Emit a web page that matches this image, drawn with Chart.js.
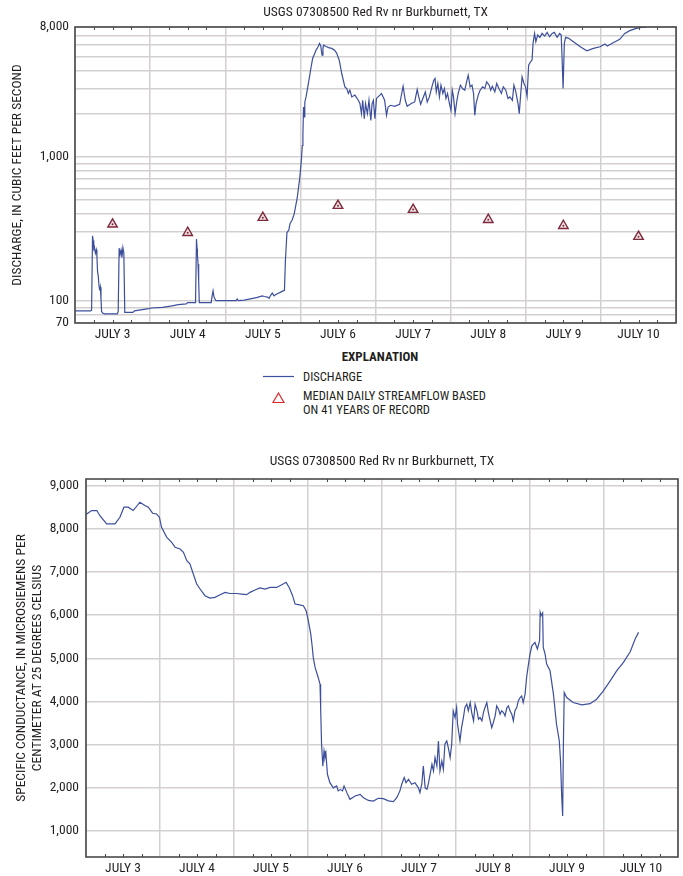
<!DOCTYPE html>
<html>
<head>
<meta charset="utf-8">
<script src="https://cdn.jsdelivr.net/npm/chart.js@4.4.1/dist/chart.umd.min.js"></script>
<style>
  html, body { margin: 0; padding: 0; background: #fff; }
  body { width: 683px; height: 876px; position: relative; overflow: hidden;
         font-family: 'Roboto Condensed', 'Liberation Sans Narrow', sans-serif; color: #231f20; }
  .box { position: absolute; left: 0; width: 683px; }
  #topBox { top: 0; height: 345px; }
  #bottomBox { top: 440px; height: 436px; }
  .txt { position: absolute; white-space: nowrap; font-size: 12.5px; }
  svg { position: absolute; }
</style>
</head>
<body>
<div class="box" id="topBox"><canvas id="dischargeChart"></canvas></div>
<div class="box" id="bottomBox"><canvas id="conductanceChart"></canvas></div>

<!-- explanation block under the discharge chart -->
<div class="txt" style="left:320px; top:349px; width:120px; text-align:center; font-weight:bold; font-size:13px; line-height:16px;">EXPLANATION</div>
<svg style="left:263px; top:370px;" width="31" height="12"><line x1="0" y1="6.5" x2="31" y2="6.5" stroke="#3d4f9b" stroke-width="1.2"/></svg>
<div class="txt" style="left:303px; top:369px; line-height:16px;">DISCHARGE</div>
<svg style="left:272px; top:392px;" width="13" height="12"><polygon points="6.5,1 12,10.5 1,10.5" fill="none" stroke="#e0262b" stroke-width="1.2"/></svg>
<div class="txt" style="left:303px; top:389px; line-height:14px;">MEDIAN DAILY STREAMFLOW BASED<br>ON 41 YEARS OF RECORD</div>

<script>
// ---- data (hours since July 3, 00:00) ----
var dayLabels = ['JULY 3', 'JULY 4', 'JULY 5', 'JULY 6', 'JULY 7', 'JULY 8', 'JULY 9', 'JULY 10'];

var dischargeHours = [0, 5.0, 5.3, 5.6, 5.8, 6.0, 6.2, 6.5, 6.8, 7.0, 7.2, 7.4, 7.7, 7.9, 8.1, 8.3, 8.5, 8.8, 9.5, 13.5,
  13.8, 14.1, 14.4, 14.7, 15.0, 15.3, 15.6, 15.9, 18.5, 19.0, 23.5, 24.5, 28.0, 31.0, 33.0, 35.5, 36.0, 38.5, 38.8, 39.0,
  39.1, 39.3, 39.5, 39.7, 43.5, 43.8, 44.1, 44.4, 45.0, 51.5, 51.8, 52.2, 54.0, 56.0, 58.0, 59.8, 60.5, 61.5, 62.0, 62.5,
  63.0, 63.6, 64.0, 66.5, 66.9, 67.2, 67.7, 68.3, 68.7, 69.3, 70.0, 70.6, 71.0, 71.4, 71.7, 72.0, 72.3, 72.6, 72.8, 73.0,
  73.2, 73.4, 73.8, 74.4, 74.9, 75.4, 75.9, 76.5, 77.0, 77.6, 78.1, 78.5, 78.9, 79.2, 79.4, 80.2, 81.0, 82.0, 83.0, 83.6,
  84.4, 85.2, 86.2, 86.8, 87.3, 87.8, 88.4, 89.4, 90.5, 91.0, 91.5, 91.9, 92.4, 92.8, 93.4, 93.9, 94.5, 94.9, 95.3, 95.8,
  96.3, 96.8, 97.4, 97.9, 98.9, 99.5, 100.0, 100.8, 102.1, 103.7, 104.8, 105.5, 106.1, 107.4, 108.5, 109.3, 109.8, 110.4, 111.1, 111.9,
  112.5, 113.2, 114.0, 114.6, 115.0, 115.4, 115.9, 116.4, 116.9, 117.5, 118.0, 118.5, 119.0, 119.6, 120.1, 120.5, 120.9, 121.4, 122.0, 122.4,
  123.1, 123.8, 124.5, 125.2, 125.6, 126.2, 126.8, 127.3, 127.7, 128.1, 128.8, 129.4, 130.2, 130.9, 131.5, 132.3, 132.8, 133.3, 134.1, 134.7,
  135.4, 136.2, 136.8, 137.6, 138.3, 138.9, 139.7, 140.2, 140.8, 141.5, 141.9, 142.3, 142.8, 143.4, 143.9, 144.4, 144.9, 145.5, 146.0, 146.3,
  146.8, 147.2, 147.8, 148.5, 149.2, 150.0, 150.8, 151.6, 152.4, 153.1, 154.0, 154.8, 155.3, 155.6, 155.9, 156.3, 156.7, 157.7, 159.2, 161.4,
  163.5, 165.6, 167.7, 169.3, 170.0, 171.9, 174.0, 175.6, 177.2, 179.3, 180.9, 182.5];
var dischargeCfs = [85, 85, 86, 283, 262, 230, 236, 214, 226, 205, 160, 150, 125, 118, 124, 103, 84, 82, 81, 81,
  84, 232, 210, 225, 200, 234, 215, 83, 83, 85, 88, 89, 90, 92, 94, 95, 97, 97, 268, 230,
  211, 180, 137, 97, 97, 108, 117, 106, 100, 100, 103, 100, 101, 103, 105, 108, 107, 106, 104, 109,
  113, 108, 110, 117, 118, 189, 298, 310, 345, 361, 400, 470, 520, 615, 686, 800, 944, 1200, 1449, 2223,
  1900, 2400, 2612, 3100, 3600, 4200, 4830, 5200, 5530, 5800, 6150, 5900, 5100, 5700, 5980, 5850, 5750, 5680, 5500, 5250,
  4700, 3800, 3070, 2985, 2760, 2910, 2612, 2690, 2475, 2350, 2000, 2475, 1845, 2350, 2000, 2475, 1795, 2350, 2475, 1845,
  2550, 2612, 2690, 2760, 2475, 1945, 2223, 2285, 2249, 2322, 3100, 2475, 2249, 2350, 2411, 2939, 2612, 2322, 2550, 2830,
  2411, 2612, 3070, 3415, 3510, 2830, 3240, 2612, 3150, 2760, 2985, 2550, 2760, 2350, 2110, 2910, 2612, 2000, 2475, 2760,
  3150, 2985, 2910, 3415, 3700, 3070, 3150, 2760, 1945, 2350, 2690, 2910, 3070, 2985, 3325, 3150, 2910, 3100, 2830, 3240,
  2985, 2760, 3070, 2910, 2550, 2612, 2475, 3150, 2830, 2350, 2000, 2612, 3602, 3240, 3070, 2641, 4344, 4584, 4708, 6153,
  7225, 6319, 7035, 6775, 7225, 6922, 7344, 6848, 7225, 7344, 6775, 7225, 7035, 4708, 2985, 6153, 6775, 6668, 6319, 5832,
  5469, 5678, 5832, 6087, 5895, 6218, 6561, 7225, 7543, 7830, 7960, 8000];

var medianHours = [12, 36, 60, 84, 108, 132, 156, 180];
var medianCfs = [340, 297, 378, 458, 430, 366, 332, 279];

var dischargeGridValues = [70, 80, 90, 100, 200, 300, 400, 500, 600, 700, 800, 900,
  1000, 2000, 3000, 4000, 5000, 6000, 7000, 8000];
var dischargeLabelValues = [70, 100, 1000, 8000];

var conductanceHours = [0, 1.8, 3.5, 4.5, 6.7, 9.4, 11.0, 12.3, 13.7, 15.3, 17.5, 19.1, 20.2, 21.6, 22.9, 23.8, 24.5, 26.2, 27.8, 28.9,
  30.5, 31.6, 32.7, 33.7, 34.8, 35.9, 37.0, 38.6, 40.2, 41.8, 43.5, 45.1, 46.7, 48.9, 50.5, 52.1, 53.2, 54.8, 56.4, 58.1,
  59.7, 61.8, 63.5, 64.9, 65.9, 67.0, 67.8, 68.9, 70.5, 71.4, 72.1, 72.9, 73.4, 73.7, 74.3, 75.3, 75.9, 76.1, 76.4, 76.8,
  77.2, 77.5, 77.8, 78.3, 79.1, 80.2, 81.3, 81.8, 82.5, 83.2, 83.7, 84.2, 84.6, 85.6, 87.3, 88.9, 90.0, 91.6, 93.2, 94.8,
  96.4, 98.1, 99.7, 100.8, 101.8, 102.4, 103.2, 103.8, 104.6, 105.6, 106.7, 107.8, 108.3, 108.9, 109.4, 110.0, 110.6, 111.1, 111.6, 112.2,
  112.7, 113.2, 113.8, 114.3, 114.8, 115.4, 115.9, 116.4, 117.0, 117.5, 118.1, 118.6, 119.1, 119.7, 120.2, 120.5, 121.3, 121.8, 122.4, 122.9,
  123.5, 124.0, 124.6, 125.1, 125.7, 126.2, 126.8, 127.3, 127.8, 128.4, 128.9, 129.4, 130.0, 130.5, 131.1, 131.6, 132.1, 132.7, 133.2, 133.8,
  134.3, 134.8, 135.4, 135.9, 136.5, 137.0, 137.5, 138.1, 138.6, 139.1, 139.7, 140.2, 140.8, 141.3, 141.8, 142.4, 142.9, 143.5, 144.0, 144.6,
  145.6, 146.4, 147.1, 147.3, 147.6, 148.1, 148.3, 148.9, 149.4, 150.5, 151.6, 152.6, 153.5, 153.9, 154.3, 154.6, 154.8, 155.1, 155.9, 158.0,
  160.8, 163.5, 165.6, 167.8, 170.0, 172.1, 174.3, 176.5, 178.1, 179.2];
var conductanceUs = [8328, 8420, 8420, 8300, 8110, 8110, 8265, 8497, 8497, 8420, 8613, 8536, 8497, 8358, 8340, 8265, 8033, 7800, 7685, 7570,
  7530, 7454, 7260, 7184, 6952, 6720, 6604, 6449, 6395, 6410, 6472, 6526, 6500, 6500, 6487, 6472, 6526, 6580, 6627, 6600,
  6640, 6640, 6704, 6758, 6640, 6449, 6256, 6240, 6217, 6100, 5870, 5560, 5250, 5020, 4788, 4556, 4400, 3860, 3010, 2500,
  2855, 2700, 2800, 2315, 2120, 2000, 2045, 1930, 1960, 1930, 2045, 1960, 1890, 1735, 1812, 1850, 1773, 1710, 1696, 1760,
  1750, 1700, 1680, 1773, 1930, 2084, 2240, 2120, 2200, 2084, 2120, 2000, 1890, 2084, 2507, 2000, 1970, 2120, 2315, 2546,
  2391, 2700, 2507, 3087, 2391, 2623, 2430, 3010, 3087, 2932, 2700, 3010, 3783, 3627, 3860, 3473, 3087, 3396, 3627, 3860,
  3937, 3783, 3976, 3744, 3551, 3937, 3783, 3590, 3627, 3551, 3744, 3860, 3976, 3744, 3551, 3396, 3512, 3667, 3899, 3821,
  3705, 3783, 3744, 3667, 3860, 3899, 3783, 3705, 3551, 3783, 3860, 4014, 4092, 4130, 3976, 4169, 4556, 4865, 5097, 5290,
  5367, 5213, 5406, 6062, 5990, 6050, 5250, 5097, 4865, 4710, 4170, 3473, 3087, 2623, 1773, 1348, 2855, 4208, 4092, 3976,
  3923, 3950, 4053, 4246, 4478, 4710, 4904, 5150, 5445, 5600];

var conductanceGridValues = [1000, 2000, 3000, 4000, 5000, 6000, 7000, 8000, 9000];

// ---- styling ----
var fontFamily = "'Roboto Condensed', 'Liberation Sans Narrow', sans-serif";
var textColor = '#231f20';
var gridColor = '#d4d0d0';
var frameColor = '#4a4a4a';
var lineColor = '#3d4f9b';
var stationTitle = 'USGS 07308500 Red Rv nr Burkburnett, TX';

Chart.defaults.font.family = fontFamily;
Chart.defaults.font.size = 13.5;
Chart.defaults.color = textColor;

var sixHourTicks = [];
for (var h = 0; h <= 192; h += 6) sixHourTicks.push(h);

function pairs(xs, ys) {
  return xs.map(function (x, i) { return { x: x, y: ys[i] }; });
}

// box around the plot and short inward ticks every 6 hours
var framePlugin = {
  id: 'frame',
  afterDraw: function (chart) {
    var a = chart.chartArea, ctx = chart.ctx, xs = chart.scales.x;
    ctx.save();
    ctx.strokeStyle = frameColor;
    ctx.lineWidth = 1;
    ctx.beginPath();
    xs.ticks.forEach(function (t) {
      if (t.value % 24 === 0) return;
      var px = Math.round(xs.getPixelForValue(t.value)) + 0.5;
      ctx.moveTo(px, a.bottom); ctx.lineTo(px, a.bottom - 3);
      ctx.moveTo(px, a.top); ctx.lineTo(px, a.top + 3);
    });
    ctx.stroke();
    ctx.lineWidth = 1.6;
    ctx.strokeRect(a.left, a.top, a.right - a.left, a.bottom - a.top);
    ctx.restore();
  }
};

function dayAxis(axisHeight) {
  return {
    type: 'linear', min: 0, max: 192,
    afterBuildTicks: function (s) { s.ticks = sixHourTicks.map(function (v) { return { value: v }; }); },
    afterFit: function (s) { s.height = axisHeight; },
    border: { display: false },
    grid: {
      drawTicks: false, lineWidth: 1.5,
      color: function (c) { return (c.tick && c.tick.value % 24 === 0) ? gridColor : 'rgba(0,0,0,0)'; }
    },
    ticks: {
      autoSkip: false, maxRotation: 0, padding: 4,
      callback: function (v) { return v % 24 === 12 ? dayLabels[(v - 12) / 24] : ''; }
    }
  };
}

new Chart(document.getElementById('dischargeChart'), {
  type: 'line',
  data: {
    datasets: [
      { data: pairs(medianHours, medianCfs), showLine: false, pointStyle: 'circle', pointRadius: 1,
        pointBackgroundColor: '#7f2a3c', pointBorderWidth: 0 },
      { data: pairs(medianHours, medianCfs), showLine: false, pointStyle: 'triangle', pointRadius: 5.5,
        pointBorderColor: '#7f2a3c', pointBackgroundColor: '#f1e3e6', pointBorderWidth: 1.4 },
      { data: pairs(dischargeHours, dischargeCfs), borderColor: lineColor, borderWidth: 1.2,
        pointRadius: 0, tension: 0 }
    ]
  },
  options: {
    responsive: true, maintainAspectRatio: false, animation: false, events: [],
    layout: { padding: { left: 0, right: 2, top: 0, bottom: 0 } },
    plugins: {
      legend: { display: false }, tooltip: { enabled: false },
      title: { display: true, text: stationTitle, fullSize: false, font: { size: 13.5, weight: 'normal', lineHeight: 1.2 },
               color: textColor, padding: { top: 4.9, bottom: 5.9 } }
    },
    scales: {
      x: dayAxis(22),
      y: {
        type: 'logarithmic', min: 70, max: 8000,
        afterBuildTicks: function (s) { s.ticks = dischargeGridValues.map(function (v) { return { value: v }; }); },
        afterFit: function (s) { s.width = 75; },
        border: { display: false },
        grid: { drawTicks: false, color: gridColor, lineWidth: 1.5 },
        ticks: {
          autoSkip: false, padding: 6,
          callback: function (v) { return dischargeLabelValues.indexOf(v) >= 0 ? v.toLocaleString('en-US') : ''; }
        },
        title: { display: true, text: 'DISCHARGE, IN CUBIC FEET PER SECOND', color: textColor,
                 font: { size: 13.5 }, padding: { top: 10, bottom: 0 } }
      }
    }
  },
  plugins: [framePlugin]
});

new Chart(document.getElementById('conductanceChart'), {
  type: 'line',
  data: {
    datasets: [
      { data: pairs(conductanceHours, conductanceUs), borderColor: lineColor, borderWidth: 1.2,
        pointRadius: 0, tension: 0 }
    ]
  },
  options: {
    responsive: true, maintainAspectRatio: false, animation: false, events: [],
    layout: { padding: { left: 0, right: 5, top: 0, bottom: 0 } },
    plugins: {
      legend: { display: false }, tooltip: { enabled: false },
      title: { display: true, text: stationTitle, fullSize: false, font: { size: 13.5, weight: 'normal', lineHeight: 1.2 },
               color: textColor, padding: { top: 13.9, bottom: 8.9 } }
    },
    scales: {
      x: dayAxis(19),
      y: {
        type: 'linear', min: 400, max: 9150,
        afterBuildTicks: function (s) { s.ticks = conductanceGridValues.map(function (v) { return { value: v }; }); },
        afterFit: function (s) { s.width = 86; },
        border: { display: false },
        grid: { drawTicks: false, color: gridColor, lineWidth: 1.5 },
        ticks: {
          autoSkip: false, padding: 7,
          callback: function (v) { return v.toLocaleString('en-US'); }
        },
        title: { display: true, text: ['SPECIFIC CONDUCTANCE, IN MICROSIEMENS PER', 'CENTIMETER AT 25 DEGREES CELSIUS'],
                 color: textColor, font: { size: 13.5, lineHeight: 1.15 }, padding: { top: 14.2, bottom: 0 } }
      }
    }
  },
  plugins: [framePlugin]
});
</script>
</body>
</html>
